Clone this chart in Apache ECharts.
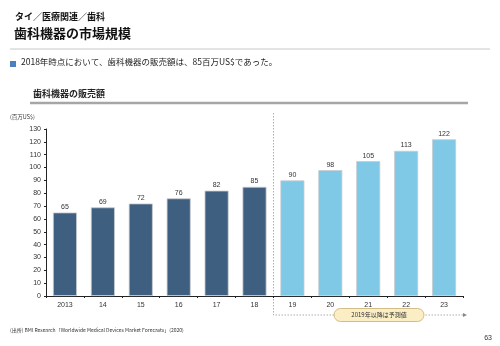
<!DOCTYPE html>
<html><head><meta charset="utf-8">
<script src="https://cdn.jsdelivr.net/npm/echarts@6/dist/echarts.min.js"></script>
<style>html,body{margin:0;padding:0;background:#fff}#c{width:500px;height:346px}</style>
</head><body><div id="c"></div>
<script>
const categories = ['2013','14','15','16','17','18','19','20','21','22','23'];
const values = [65, 69, 72, 76, 82, 85, 90, 98, 105, 113, 122];
const forecastStart = 6; // index of first forecast year
const yTicks = {min: 0, max: 130, interval: 10};
const FONT = '"Noto Sans CJK JP", "Liberation Sans", sans-serif';
const chart = echarts.init(document.getElementById('c'), null, {renderer: 'canvas'});
const option = {
  animation: false,
  textStyle: {fontFamily: FONT},
  grid: {left: 46, right: 37, top: 129, bottom: 50, containLabel: false},
  xAxis: {
    type: 'category', data: categories,
    axisLine: {lineStyle: {color: '#222', width: 1}},
    axisTick: {show: true, interval: 0, length: 2, lineStyle: {color: '#222'}},
    axisLabel: {color: '#333', fontSize: 7, margin: 6, fontFamily: 'Liberation Sans'}
  },
  yAxis: {
    type: 'value', min: yTicks.min, max: yTicks.max, interval: yTicks.interval,
    splitLine: {show: false},
    axisLine: {show: true, lineStyle: {color: '#222', width: 1}},
    axisTick: {show: true, length: 2, lineStyle: {color: '#222'}},
    axisLabel: {color: '#333', fontSize: 7, margin: 5, fontFamily: 'Liberation Sans'}
  },
  series: [{
    type: 'bar', barWidth: 24,
    data: values.map((v, i) => ({value: v, itemStyle: {color: i < forecastStart ? '#3e5f7f' : '#7fc9e6'}})),
    itemStyle: {borderColor: '#c8ccd0', borderWidth: 0.8},
    label: {show: true, position: 'top', distance: 2, color: '#333', fontSize: 7, fontFamily: 'Liberation Sans'}
  }],
  graphic: [
    {type: 'text', left: 15, top: 12, style: {text: 'タイ／医療関連／歯科', font: 'bold 9px ' + FONT, fill: '#111'}},
    {type: 'text', left: 14, top: 27, style: {text: '歯科機器の市場規模', font: 'bold 13px ' + FONT, fill: '#111'}},
    {type: 'line', shape: {x1: 10, y1: 49, x2: 490, y2: 49}, style: {stroke: '#c8c8c8', lineWidth: 1}},
    {type: 'rect', shape: {x: 10, y: 61, width: 6, height: 6}, style: {fill: '#4a7fc1'}},
    {type: 'text', left: 21, top: 58, style: {text: '2018年時点において、歯科機器の販売額は、85百万US$であった。', font: '8.5px ' + FONT, fill: '#222'}},
    {type: 'text', left: 33, top: 89, style: {text: '歯科機器の販売額', font: 'bold 9px ' + FONT, fill: '#222'}},
    {type: 'line', shape: {x1: 30, y1: 103, x2: 468, y2: 103}, style: {stroke: '#a6a6a6', lineWidth: 2.5}},
    {type: 'text', left: 10, top: 114, style: {text: '(百万US$)', font: '5.5px ' + FONT, fill: '#333'}},
    {type: 'text', left: 10, top: 328, style: {text: '(出所) BMI Research「Worldwide Medical Devices Market Forecasts」(2020)', font: '5px ' + FONT, fill: '#333'}},
    {type: 'text', right: 8, top: 335, style: {text: '63', font: '7px Liberation Sans', fill: '#333'}}
  ]
};
chart.setOption(option);
// forecast annotation positioned from the axis scale
const p18 = chart.convertToPixel({xAxisIndex: 0}, categories[forecastStart - 1]);
const p19 = chart.convertToPixel({xAxisIndex: 0}, categories[forecastStart]);
const xSep = Math.round((p18 + p19) / 2) + 0.5;
const yTop = chart.convertToPixel({yAxisIndex: 0}, yTicks.max) - 16;
const yBase = chart.convertToPixel({yAxisIndex: 0}, 0);
const xEnd = chart.convertToPixel({xAxisIndex: 0}, categories[categories.length - 1]) + (p19 - p18) / 2;
const yArrow = yBase + 19;
const boxW = 90, boxH = 13, boxCx = 379;
chart.setOption({graphic: option.graphic.concat([
  {type: 'polyline', shape: {points: [[xSep, yTop], [xSep, yArrow], [xEnd, yArrow]]}, style: {stroke: '#999', lineWidth: 0.8, lineDash: [1.5, 1.5], fill: null}},
  {type: 'polygon', shape: {points: [[xEnd, yArrow - 2], [xEnd + 4, yArrow], [xEnd, yArrow + 2]]}, style: {fill: '#888'}},
  {type: 'rect', shape: {x: boxCx - boxW / 2, y: yArrow - boxH / 2, width: boxW, height: boxH, r: 6.5}, style: {fill: '#fbeec4', stroke: '#c9ad6e', lineWidth: 0.8}},
  {type: 'text', x: boxCx, y: yArrow, style: {text: '2019年以降は予測値', font: '6px ' + FONT, fill: '#333', align: 'center', verticalAlign: 'middle'}}
])});
</script>
</body></html>
